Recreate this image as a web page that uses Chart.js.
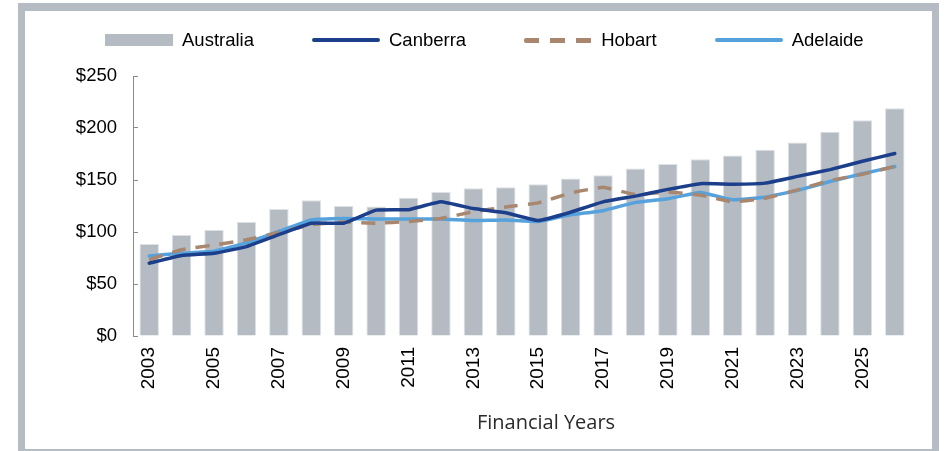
<!DOCTYPE html>
<html>
<head>
<meta charset="utf-8">
<script src="https://cdn.jsdelivr.net/npm/chart.js@4.4.0/dist/chart.umd.min.js"></script>
<style>
    html, body { margin: 0; padding: 0; background: #fff; }
    #wrap { position: relative; width: 944px; height: 451px; overflow: hidden; }
    #chart { position: absolute; left: 0; top: 0; }
    #legend { position: absolute; left: 105px; top: 29px; display: flex; align-items: center;
              font-family: "Liberation Sans", Arial, sans-serif; font-size: 18.5px; color: #000; }
    .item { display: flex; align-items: center; margin-right: 58px; }
    .swatch { width: 68px; margin-right: 9px; }
</style>
</head>
<body>
<div id="wrap">
    <canvas id="chart" width="944" height="451"></canvas>
    <div id="legend"></div>
</div>
<script>
const years = ['2003', '2004', '2005', '2006', '2007', '2008', '2009', '2010', '2011', '2012', '2013', '2014',
               '2015', '2016', '2017', '2018', '2019', '2020', '2021', '2022', '2023', '2024', '2025', '2026'];
const australia = [88.5, 97, 102, 109.5, 122, 130.5, 125, 124.5, 133, 138.5, 142, 143,
                   146, 151.5, 154.5, 161, 165.5, 170, 173.5, 179, 186, 196.5, 207.5, 219];
const canberra = [70, 77.5, 79.5, 86, 97.5, 108.5, 108.5, 121, 121.5, 129, 122.5, 118.5,
                  111, 119, 129, 134.5, 141, 146.5, 146, 147, 153.5, 160, 168, 175.5];
const hobart = [73.5, 83, 87.5, 92.5, 99.5, 107, 109.5, 108.5, 110, 113, 119.5, 124,
                128, 137.5, 143, 136, 138.5, 135.5, 129, 132.5, 140.5, 149.5, 155.5, 163];
const adelaide = [77, 79.5, 81.5, 89.5, 100.5, 111.5, 113, 112.5, 112.5, 112.5, 111, 111.5,
                  110, 116.5, 120.5, 128.5, 132, 138, 131, 133.5, 140, 148.5, 156, 163];
const yTicks = [0, 50, 100, 150, 200, 250];

const GREY = '#b4bbc2';
const NAVY = '#1c3f8c';
const TAN = '#a9876f';
const SKY = '#55a2dc';
const FONT = '"Liberation Sans", Arial, sans-serif';

// grey picture frame + x axis title
const framePlugin = {
    id: 'frame',
    afterDraw(chart) {
        const ctx = chart.ctx;
        ctx.save();
        ctx.fillStyle = '#b6bcc3';
        ctx.fillRect(18, 3, 921, 8);
        ctx.fillRect(18, 3, 7, 448);
        ctx.fillRect(932, 3, 7, 448);
        ctx.fillRect(18, 449, 921, 2);
        ctx.fillStyle = '#2a2a2a';
        ctx.font = '20px "Open Sans", Lato, sans-serif';
        ctx.textAlign = 'center';
        ctx.textBaseline = 'middle';
        ctx.fillText('Financial Years', 546, 423);
        ctx.restore();
    }
};

const lineSet = (label, data, color, dash) => ({
    type: 'line',
    label: label,
    data: data,
    borderColor: color,
    backgroundColor: color,
    borderWidth: 3.5,
    borderDash: dash,
    borderJoinStyle: 'round',
    borderCapStyle: dash.length ? 'butt' : 'round',
    pointRadius: 0,
    tension: 0.1,
    order: 1
});

new Chart(document.getElementById('chart'), {
    data: {
        labels: years,
        datasets: [
            lineSet('Canberra', canberra, NAVY, []),
            lineSet('Hobart', hobart, TAN, [14, 10]),
            lineSet('Adelaide', adelaide, SKY, []),
            {
                type: 'bar',
                label: 'Australia',
                data: australia,
                backgroundColor: GREY,
                borderColor: '#dde0e4',
                borderWidth: 1,
                barPercentage: 0.6,
                categoryPercentage: 1,
                order: 4
            }
        ]
    },
    options: {
        responsive: false,
        animation: false,
        layout: { padding: { top: 76, left: 40, right: 33, bottom: 0 } },
        plugins: { legend: { display: false }, tooltip: { enabled: false } },
        scales: {
            x: {
                grid: { display: false, drawTicks: false },
                border: { display: false },
                ticks: {
                    autoSkip: false,
                    maxRotation: 90,
                    minRotation: 90,
                    padding: 11,
                    color: '#000',
                    font: { family: FONT, size: 19 },
                    callback: (v, i) => (i % 2 === 0 ? years[i] : '')
                },
                afterFit: (s) => { s.height = 115; }
            },
            y: {
                min: 0,
                max: 250,
                afterBuildTicks: (s) => { s.ticks = yTicks.map(v => ({ value: v })); },
                grid: { drawOnChartArea: false, drawTicks: true, tickLength: -5, color: '#8a8a8a' },
                border: { color: '#8a8a8a', width: 1 },
                ticks: {
                    padding: 21,
                    color: '#000',
                    font: { family: FONT, size: 18.5 },
                    callback: (v) => '$' + v
                },
                afterFit: (s) => { s.width = 93; }
            }
        }
    },
    plugins: [framePlugin]
});

// html legend in the chart's own order
const legendItems = [
    { name: 'Australia', kind: 'box', color: GREY },
    { name: 'Canberra', kind: 'line', color: NAVY },
    { name: 'Hobart', kind: 'dash', color: TAN },
    { name: 'Adelaide', kind: 'line', color: SKY }
];
document.getElementById('legend').innerHTML = legendItems.map(it => {
    let sw;
    if (it.kind === 'box') {
        sw = `height:12px;background:${it.color};`;
    } else if (it.kind === 'line') {
        sw = `height:4px;border-radius:2px;background:${it.color};`;
    } else {
        sw = `height:5px;background:repeating-linear-gradient(90deg, ${it.color} 0 15px, transparent 15px 26px);border-radius:2px;`;
    }
    return `<div class="item"><div class="swatch" style="${sw}"></div><span>${it.name}</span></div>`;
}).join('');
</script>
</body>
</html>
